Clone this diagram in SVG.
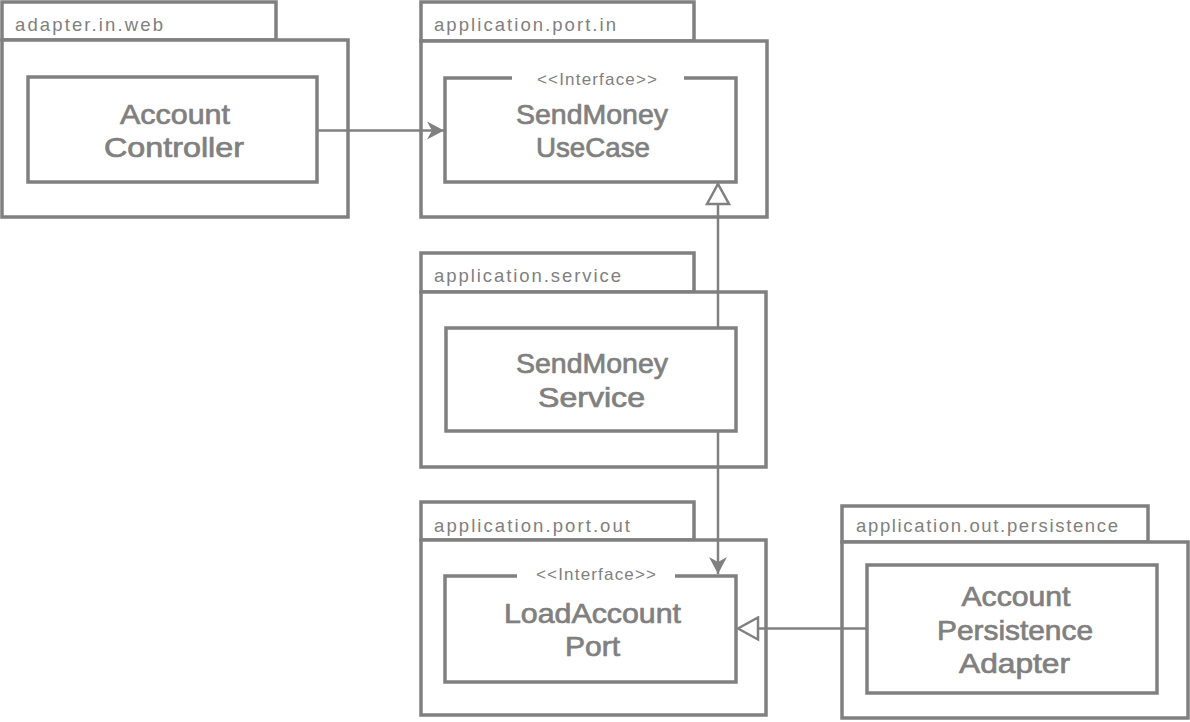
<svg xmlns="http://www.w3.org/2000/svg" width="1190" height="722" viewBox="0 0 1190 722">
<style>
  .frame { fill: #ffffff; stroke: #808080; stroke-width: 3.5; }
  .box { fill: none; stroke: #808080; stroke-width: 3.5; }
  .pkg { font-family: "Liberation Sans", Arial, sans-serif; font-size: 18.5px; fill: #808080; }
  .title { font-family: "Liberation Sans", Arial, sans-serif; font-size: 28px; fill: #808080; stroke: #808080; stroke-width: 0.7; text-anchor: middle; }
  .stereo { font-family: "Liberation Sans", Arial, sans-serif; font-size: 17px; fill: #808080; text-anchor: middle; }
  .conn { fill: none; stroke: #808080; stroke-width: 2.5; }
</style>
<defs>
  <marker id="open" markerUnits="userSpaceOnUse" viewBox="0 0 18 19" markerWidth="18" markerHeight="19" refX="17" refY="9.5" orient="auto">
    <path d="M0,0.5 L17,9.5 L0,18.5 L5,9.5 Z" fill="#808080"/>
  </marker>
  <marker id="hollow" markerUnits="userSpaceOnUse" viewBox="0 0 24 26" markerWidth="24" markerHeight="26" refX="22" refY="13" orient="auto">
    <path d="M2,2 L22,13 L2,24 Z" fill="#ffffff" stroke="#808080" stroke-width="2.5"/>
  </marker>
</defs>
<rect width="1190" height="722" fill="#ffffff"/>

<g id="pkg-adapter-in-web">
  <rect class="frame" x="2" y="2" width="274" height="38"/>
  <rect class="frame" x="2" y="40" width="346" height="177"/>
  <text class="pkg" x="15" y="31" textLength="148">adapter.in.web</text>
</g>
<g id="node-account-controller">
  <rect class="box" x="28" y="77" width="289" height="105"/>
  <text class="title" x="175" y="124" textLength="110" lengthAdjust="spacingAndGlyphs">Account</text>
  <text class="title" x="174" y="157" textLength="140" lengthAdjust="spacingAndGlyphs">Controller</text>
</g>

<g id="pkg-application-port-in">
  <rect class="frame" x="421" y="2" width="273" height="39"/>
  <rect class="frame" x="421" y="41" width="346" height="176"/>
  <text class="pkg" x="434" y="31" textLength="182">application.port.in</text>
</g>
<g id="node-sendmoney-usecase">
  <path class="box" d="M512,78 H445 V182 H736 V78 H684"/>
  <text class="stereo" x="597" y="85" textLength="120">&lt;&lt;Interface&gt;&gt;</text>
  <text class="title" x="592" y="124" textLength="152" lengthAdjust="spacingAndGlyphs">SendMoney</text>
  <text class="title" x="593" y="157" textLength="114" lengthAdjust="spacingAndGlyphs">UseCase</text>
</g>

<g id="pkg-application-service">
  <rect class="frame" x="421" y="253" width="273" height="39"/>
  <rect class="frame" x="421" y="292" width="345" height="175"/>
  <text class="pkg" x="434" y="282" textLength="187">application.service</text>
</g>
<g id="node-sendmoney-service">
  <rect class="box" x="446" y="328" width="290" height="103"/>
  <text class="title" x="592" y="373" textLength="152" lengthAdjust="spacingAndGlyphs">SendMoney</text>
  <text class="title" x="591.5" y="407" textLength="107" lengthAdjust="spacingAndGlyphs">Service</text>
</g>

<g id="pkg-application-port-out">
  <rect class="frame" x="421" y="502" width="273" height="38"/>
  <rect class="frame" x="421" y="540" width="345" height="175"/>
  <text class="pkg" x="434" y="532" textLength="196">application.port.out</text>
</g>
<g id="node-loadaccount-port">
  <path class="box" d="M517,576 H445 V682 H736 V576 H675"/>
  <text class="stereo" x="596" y="580" textLength="120">&lt;&lt;Interface&gt;&gt;</text>
  <text class="title" x="592.5" y="623" textLength="177" lengthAdjust="spacingAndGlyphs">LoadAccount</text>
  <text class="title" x="592.5" y="656" textLength="55" lengthAdjust="spacingAndGlyphs">Port</text>
</g>

<g id="pkg-application-out-persistence">
  <rect class="frame" x="842" y="506" width="306" height="36"/>
  <rect class="frame" x="842" y="542" width="346" height="176"/>
  <text class="pkg" x="856" y="532" textLength="262">application.out.persistence</text>
</g>
<g id="node-account-persistence-adapter">
  <rect class="box" x="867" y="565" width="290" height="128"/>
  <text class="title" x="1016" y="606" textLength="109" lengthAdjust="spacingAndGlyphs">Account</text>
  <text class="title" x="1015" y="640" textLength="156" lengthAdjust="spacingAndGlyphs">Persistence</text>
  <text class="title" x="1014.5" y="673" textLength="111" lengthAdjust="spacingAndGlyphs">Adapter</text>
</g>

<g id="connectors">
  <path class="conn" d="M317,130.5 H444" marker-end="url(#open)"/>
  <path class="conn" d="M718,328 V184" marker-end="url(#hollow)"/>
  <path class="conn" d="M718,432 V574" marker-end="url(#open)"/>
  <path class="conn" d="M867,628.5 H738" marker-end="url(#hollow)"/>
</g>
</svg>
